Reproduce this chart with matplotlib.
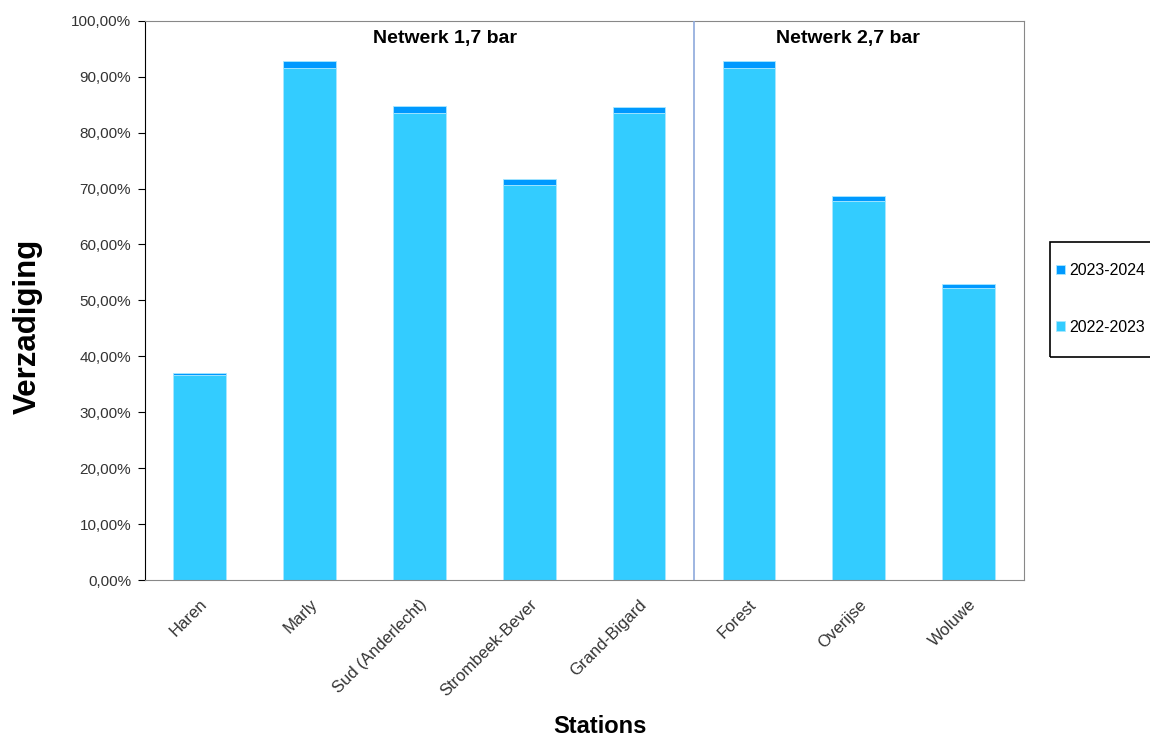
'''
Verzadiging per station, gestapelde staven 2022-2023 / 2023-2024
'''
from matplotlib import pyplot as plt
from matplotlib.patches import Rectangle
from matplotlib.ticker import FuncFormatter


#gegevens
stations = ['Haren', 'Marly', 'Sud (Anderlecht)', 'Strombeek-Bever', 'Grand-Bigard',
            'Forest', 'Overijse', 'Woluwe']
seizoen_2022 = [36.7, 91.5, 83.5, 70.6, 83.5, 91.5, 67.7, 52.2]
extra_2023 = [0.4, 1.3, 1.2, 1.1, 1.0, 1.3, 1.0, 0.7]
netwerken = ['Netwerk 1,7 bar', 'Netwerk 2,7 bar']


def teken():
    plt.rcParams['font.family'] = ['Liberation Sans', 'DejaVu Sans']

    fig = plt.figure(figsize=(11.5, 7.39), dpi=100)
    ax = fig.add_axes([0.126, 0.215, 0.764, 0.757])

    x = list(range(len(stations)))
    ax.bar(x, seizoen_2022, width=0.48, color='#33CCFF', edgecolor='#A8E8FF',
           linewidth=0.6, label='2022-2023', zorder=2)
    ax.bar(x, extra_2023, width=0.48, bottom=seizoen_2022, color='#0099FF',
           edgecolor='#A8E8FF', linewidth=0.6, label='2023-2024', zorder=2)

    #scheiding tussen de netwerken
    ax.axvline(4.5, color='#8EA9DB', linewidth=1.2, zorder=3)

    ax.text(2.23, 96.8, netwerken[0], ha='center', va='center',
            fontsize=14, fontweight='bold')
    ax.text(5.9, 96.8, netwerken[1], ha='center', va='center',
            fontsize=14, fontweight='bold')

    ax.set_xlim(-0.5, 7.5)
    ax.set_ylim(0, 100)
    ax.set_yticks(range(0, 101, 10))
    ax.yaxis.set_major_formatter(FuncFormatter(lambda v, p: ('%.2f%%' % v).replace('.', ',')))
    ax.tick_params(axis='y', labelsize=11, length=5, direction='out', pad=5,
                   labelcolor='#333333')
    ax.set_xticks(x)
    ax.set_xticklabels(stations, rotation=45, ha='right', rotation_mode='anchor',
                       fontsize=12, color='#333333')
    ax.tick_params(axis='x', length=0, pad=12)

    for s in ['top', 'right', 'bottom']:
        ax.spines[s].set_color('#888888')
    ax.spines['left'].set_color('black')

    ax.set_ylabel('Verzadiging', fontsize=22.5, fontweight='bold')
    ax.yaxis.set_label_coords(-0.116, 0.454)
    ax.set_xlabel('Stations', fontsize=17, fontweight='bold')
    ax.xaxis.set_label_coords(0.518, -0.242)

    #legenda met kader
    fig.patches.append(Rectangle((1050 / 1150, (739 - 357) / 739), 120 / 1150, 115 / 739,
                                 transform=fig.transFigure, fill=False,
                                 edgecolor='black', linewidth=1.2))
    handles, labels = ax.get_legend_handles_labels()
    fig.legend(handles[::-1], labels[::-1], loc='center left',
               bbox_to_anchor=(1056 / 1150, (739 - 299) / 739), frameon=False,
               fontsize=11.5, handlelength=0.55, handleheight=0.55,
               handletextpad=0.3, labelspacing=2.6, borderpad=0, borderaxespad=0)

    plt.savefig('out.png', dpi=100)


if __name__ == '__main__':
    teken()
